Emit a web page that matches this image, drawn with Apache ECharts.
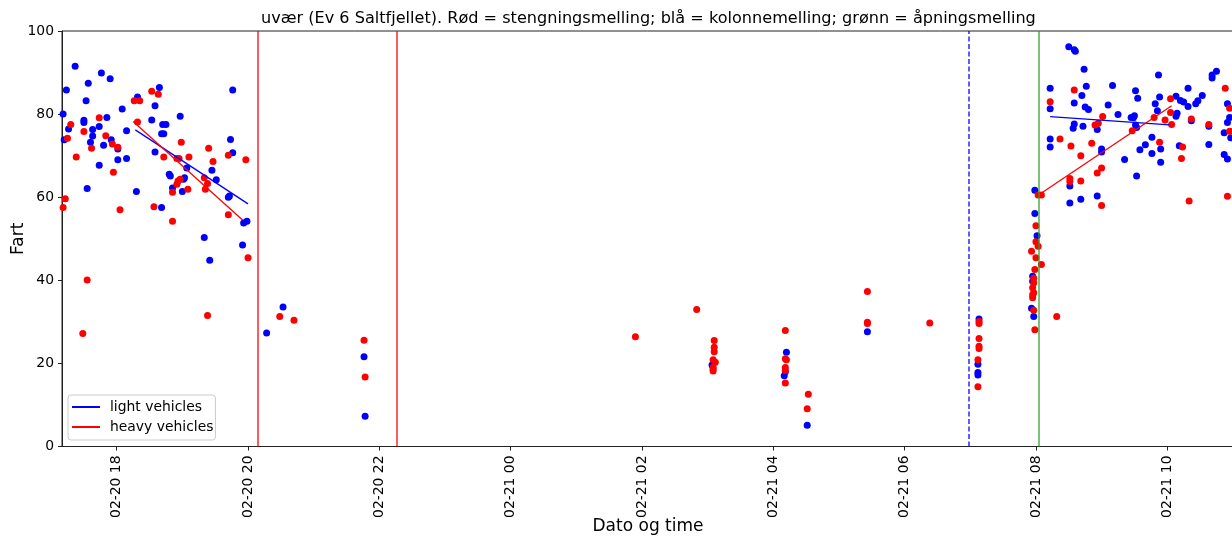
<!DOCTYPE html>
<html>
<head>
<meta charset="utf-8">
<script src="https://cdn.jsdelivr.net/npm/echarts@6/dist/echarts.min.js"></script>
<style>html,body{margin:0;padding:0;background:#fff}#c{width:1232px;height:536px}</style>
</head>
<body>
<div id="c"></div>
<script>
// ---- data ----
const titleText = 'uvær (Ev 6 Saltfjellet). Rød = stengningsmelling; blå = kolonnemelling; grønn = åpningsmelling';
const tickLabels = ['02-20 18','02-20 20','02-20 22','02-21 00','02-21 02','02-21 04','02-21 06','02-21 08','02-21 10'];
const yTicks = [0, 20, 40, 60, 80, 100];
const xRange = ['02-20 17:10', '02-21 11:01'];

const lightEvening = [['17:11',80.0],['17:12',73.8],['17:14',85.8],['17:16',76.4],['17:22',91.5],['17:30',78.5],['17:30',78.0],['17:32',83.2],['17:33',62.1],['17:34',87.4],['17:36',73.2],['17:38',76.3],['17:38',74.7],['17:44',77.0],['17:44',67.7],['17:46',89.9],['17:48',72.5],['17:51',79.2],['17:54',88.5],['17:55',73.8],['18:01',71.6],['18:01',69.0],['18:05',81.2],['18:09',76.0],['18:09',69.3],['18:18',61.4],['18:19',84.1],['18:32',78.6],['18:35',82.0],['18:35',70.9],['18:39',86.4],['18:41',75.3],['18:43',75.3],['18:42',77.5],['18:45',77.5],['18:41',57.5],['18:48',65.5],['18:49',65.1],['18:51',62.2],['18:58',79.5],['19:00',61.4],['19:01',64.3],['19:02',64.7],['19:04',67.0],['19:20',50.3],['19:25',44.8],['19:27',66.5],['19:31',64.2],['19:42',60.0],['19:43',60.3],['19:44',73.9],['19:46',85.8],['19:46',70.7],['19:56',53.8],['19:59',54.2],['19:55',48.5],['20:17',27.3],['20:32',33.6],['21:46',21.6],['21:47',7.3]];
const heavyEvening = [['17:11',57.5],['17:13',59.6],['17:15',74.2],['17:18',77.5],['17:23',69.7],['17:29',27.2],['17:30',75.8],['17:33',40.1],['17:37',71.8],['17:44',79.1],['17:50',74.8],['17:56',72.8],['17:57',66.0],['18:01',72.0],['18:03',57.0],['18:16',83.2],['18:21',83.2],['18:19',78.1],['18:32',85.5],['18:38',84.8],['18:34',57.7],['18:43',69.7],['18:51',54.2],['18:51',61.2],['18:55',69.3],['18:57',69.3],['18:56',63.9],['18:58',64.3],['18:55',63.1],['18:59',73.2],['19:05',61.9],['19:06',69.7],['19:20',64.7],['19:21',61.9],['19:24',71.8],['19:23',63.3],['19:23',31.5],['19:28',68.6],['19:42',55.8],['19:42',70.1],['19:58',69.0],['20:00',45.4],['20:29',31.3],['20:42',30.4],['21:46',25.6],['21:47',16.7]];
const lightNight = [['03:04',19.6],['04:12',22.7],['04:10',17.0],['04:11',18.0],['04:31',5.1],['05:26',27.6],['07:08',30.7],['07:07',19.8],['07:07',17.8],['07:07',17.2]];
const heavyNight = [['01:54',26.4],['02:50',33.0],['03:06',25.5],['03:06',23.9],['03:06',22.8],['03:05',20.9],['03:07',20.3],['03:05',19.1],['03:05',18.6],['03:05',18.2],['04:11',27.9],['04:11',21.1],['04:12',20.9],['04:11',19.0],['04:11',18.3],['04:11',15.3],['04:32',12.6],['04:31',9.1],['05:26',37.3],['05:26',29.9],['05:26',29.6],['06:23',29.7],['07:08',30.1],['07:08',29.6],['07:08',26.0],['07:08',24.1],['07:08',23.6],['07:07',20.9],['07:07',14.4]];
const lightMorning = [['07:59',61.7],['07:59',56.1],['08:01',50.7],['07:57',41.0],['07:57',39.8],['07:56',33.3],['07:58',31.3],['08:30',96.2],['08:35',95.5],['08:36',95.1],['08:44',90.8],['08:13',86.2],['08:13',81.3],['08:13',74.0],['08:13',72.1],['08:35',82.7],['08:46',86.7],['09:10',86.9],['08:42',84.5],['08:45',81.7],['08:48',81.1],['09:06',82.2],['09:15',79.9],['09:27',79.2],['08:35',77.6],['08:34',76.6],['08:43',77.1],['08:56',76.3],['09:00',71.6],['09:00',70.9],['09:21',69.1],['08:31',62.7],['08:56',60.3],['08:41',59.5],['08:31',58.6],['09:52',89.4],['10:41',89.4],['10:41',88.7],['10:45',90.3],['09:31',85.6],['09:33',83.8],['10:19',86.2],['09:53',84.1],['10:08',84.3],['10:12',83.3],['10:15',82.9],['10:19',81.8],['10:28',83.2],['10:26',82.5],['10:32',84.5],['10:55',82.5],['09:49',82.5],['09:51',80.8],['10:09',80.2],['10:08',79.5],['10:22',78.4],['09:30',79.6],['09:29',79.1],['09:31',77.4],['09:32',76.8],['10:38',77.1],['10:57',79.2],['10:55',78.0],['10:52',75.5],['10:58',74.3],['09:46',74.4],['09:40',72.6],['09:35',71.4],['09:46',70.5],['09:54',71.6],['09:54',68.4],['10:11',72.4],['10:38',72.7],['10:52',70.3],['10:55',69.2],['09:32',65.1]];
const heavyMorning = [['08:02',60.5],['08:05',60.5],['08:00',53.1],['08:00',49.3],['08:02',48.2],['07:56',47.0],['08:00',45.4],['08:05',43.8],['07:59',42.6],['07:58',40.5],['07:58',39.4],['07:57',38.2],['07:58',37.0],['07:57',36.5],['07:57',35.8],['07:58',32.8],['08:19',31.3],['07:59',28.1],['08:13',83.0],['08:35',85.8],['09:01',79.4],['08:54',77.4],['08:57',77.8],['08:22',74.0],['08:32',72.3],['08:51',73.0],['08:41',70.0],['09:00',67.0],['08:56',65.8],['08:31',64.5],['08:31',63.8],['08:41',63.9],['09:00',58.0],['10:53',86.2],['10:03',83.7],['10:57',81.4],['10:03',80.4],['09:58',78.6],['10:04',77.5],['10:22',78.8],['09:48',79.2],['09:28',76.0],['10:38',77.5],['10:57',75.9],['09:53',73.2],['10:14',72.1],['10:13',69.3],['10:55',60.2],['10:20',59.1]];

const lightTrendEvening = [['02-20 18:17',76.2],['02-20 20:00',58.4]];
const heavyTrendEvening = [['02-20 18:15',78.2],['02-20 19:55',54.5]];
const lightTrendMorning = [['02-21 08:13',79.4],['02-21 10:02',77.4]];
const heavyTrendMorning = [['02-21 08:01',60.3],['02-21 10:04',82.0]];

const closingTimes = ['02-20 20:09','02-20 22:16'];
const convoyTimes = ['02-21 06:59'];
const openingTimes = ['02-21 08:03'];

// ---- helpers ----
function parseT(s){
  const [md, hm] = s.split(' ');
  const [mo, d] = md.split('-').map(Number);
  const parts = hm.split(':').map(Number);
  return new Date(2020, mo-1, d, parts[0], parts[1] || 0).getTime();
}
const pts = (day, arr) => arr.map(([t, v]) => [parseT(day + ' ' + t), v]);
const line = arr => arr.map(([t, v]) => [parseT(t), v]);
const tickVals = tickLabels.map(parseT);
const labelOf = {};
tickVals.forEach((v, i) => labelOf[v] = tickLabels[i]);

const FONT = 'DejaVu Sans';
const BLUE = '#0000ff', RED = '#ff0000', GREEN = '#2ca02c';

const lightPts = [].concat(pts('02-20', lightEvening), pts('02-21', lightNight), pts('02-21', lightMorning));
const heavyPts = [].concat(pts('02-20', heavyEvening), pts('02-21', heavyNight), pts('02-21', heavyMorning));

function vline(t, color, type){
  return {xAxis: parseT(t), lineStyle: {color: color, width: 1.5, type: type, opacity: 0.85}};
}
const markData = [].concat(
  closingTimes.map(t => vline(t, RED, 'solid')),
  convoyTimes.map(t => vline(t, BLUE, [5, 2.5])),
  openingTimes.map(t => vline(t, GREEN, 'solid'))
);

function trend(name, data, color){
  return {name: name, type: 'line', data: line(data), showSymbol: false, symbol: 'none',
    lineStyle: {color: color, width: 1.3}, itemStyle: {color: color}, z: 4, silent: true};
}

const chart = echarts.init(document.getElementById('c'), null, {renderer: 'canvas'});
chart.setOption({
  animation: false,
  backgroundColor: '#fff',
  title: {text: titleText, left: 261, top: 11, padding: 0,
    textStyle: {fontFamily: FONT, fontSize: 16.1, fontWeight: 'normal', color: '#000'}},
  grid: {left: 62, right: -2, top: 31, bottom: 89.5, show: true, borderColor: '#222', borderWidth: 1,
    backgroundColor: 'transparent', containLabel: false, outerBoundsMode: 'none'},
  legend: {
    data: [{name: 'light vehicles', icon: 'rect'}, {name: 'heavy vehicles', icon: 'rect'}],
    orient: 'vertical', left: 68, top: 395, itemWidth: 28, itemHeight: 2, itemGap: 4,
    padding: [4, 2, 5, 4], selectedMode: false,
    backgroundColor: 'rgba(255,255,255,0.8)', borderColor: '#cccccc', borderWidth: 1, borderRadius: 3,
    textStyle: {fontFamily: FONT, fontSize: 13.9, color: '#000', lineHeight: 16, padding: [0, 0, 0, 5]}
  },
  xAxis: {
    type: 'value', min: parseT(xRange[0]), max: parseT(xRange[1]),
    axisLine: {show: true, lineStyle: {color: '#222', width: 1}},
    axisTick: {show: true, customValues: tickVals, length: 4, lineStyle: {color: '#222'}},
    axisLabel: {customValues: tickVals, rotate: 90, margin: 9, fontFamily: FONT, fontSize: 13.9, color: '#000',
      formatter: v => labelOf[v] || ''},
    splitLine: {show: false},
    name: 'Dato og time', nameLocation: 'middle', nameGap: 72, nameMoveOverlap: false,
    nameTextStyle: {fontFamily: FONT, fontSize: 17, color: '#000'}
  },
  yAxis: {
    type: 'value', min: yTicks[0], max: yTicks[yTicks.length-1], interval: 20,
    axisLine: {show: true, lineStyle: {color: '#222', width: 1}},
    axisTick: {show: true, length: 4, lineStyle: {color: '#222'}},
    axisLabel: {margin: 8, fontFamily: FONT, fontSize: 13.9, color: '#000'},
    splitLine: {show: false},
    name: 'Fart', nameLocation: 'middle', nameGap: 35, nameRotate: 90, nameMoveOverlap: false,
    nameTextStyle: {fontFamily: FONT, fontSize: 17, color: '#000'}
  },
  series: [
    {name: 'events', type: 'scatter', data: [], silent: true,
      markLine: {symbol: ['none', 'none'], silent: true, label: {show: false}, animation: false, data: markData}},
    {name: 'light pts', type: 'scatter', data: lightPts, symbolSize: 7, itemStyle: {color: BLUE, opacity: 1}, z: 2},
    {name: 'heavy pts', type: 'scatter', data: heavyPts, symbolSize: 7, itemStyle: {color: RED, opacity: 1}, z: 3},
    trend('light vehicles', lightTrendEvening, BLUE),
    trend('heavy vehicles', heavyTrendEvening, RED),
    trend('light vehicles', lightTrendMorning, BLUE),
    trend('heavy vehicles', heavyTrendMorning, RED)
  ]
});
</script>
</body>
</html>
